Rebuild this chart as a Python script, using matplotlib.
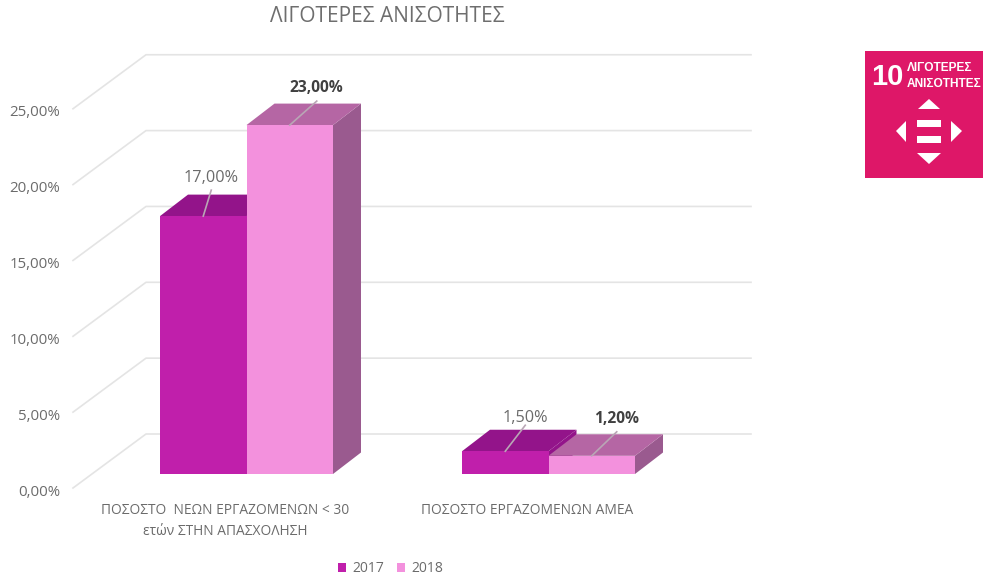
import matplotlib
matplotlib.use("Agg")
import matplotlib.pyplot as plt
from matplotlib.patches import Polygon, Rectangle, Patch

plt.rcParams['font.family'] = ['Open Sans', 'DejaVu Sans']

# --- data ---
title = "ΛΙΓΟΤΕΡΕΣ ΑΝΙΣΟΤΗΤΕΣ"
categories = ["ΠΟΣΟΣΤΟ  ΝΕΩΝ ΕΡΓΑΖΟΜΕΝΩΝ < 30\nετών ΣΤΗΝ ΑΠΑΣΧΟΛΗΣΗ", "ΠΟΣΟΣΤΟ ΕΡΓΑΖΟΜΕΝΩΝ ΑΜΕΑ"]
years = ["2017", "2018"]
values_2017 = [17.0, 1.5]
values_2018 = [23.0, 1.2]
ticks = [0, 5, 10, 15, 20, 25]


def pct(v):
    return f"{v:.2f}".replace(".", ",") + "%"


# --- style ---
W, H = 983, 581
BASE = 474      # pixel row of value 0 on the bar front
PX = 15.17      # pixels per percent
C_2017 = ("#C01FAB", "#93148A")
C_2018 = ("#F391DD", "#B566A4", "#9A5A8F")
GRID = "#E4E4E4"
TEXT = "#6B6B6B"

fig = plt.figure(figsize=(W / 100, H / 100), dpi=100)
ax = fig.add_axes([0, 0, 1, 1])
ax.set_xlim(0, W)
ax.set_ylim((BASE - H) / PX, BASE / PX)
ax.axis("off")

# oblique depth of the bars and of the floor, in axis units
bar_dx, bar_dy = 28, 21.5 / PX
floor_x0, floor_y0 = 73, -14 / PX
wall_x, wall_y = 146, 40 / PX
wall_end = 751

for t in ticks:
    ax.plot([floor_x0, wall_x, wall_end], [t + floor_y0, t + wall_y, t + wall_y],
            color=GRID, lw=1.2, zorder=1, solid_joinstyle="round")
    ax.text(60, t + floor_y0 - 4 / PX, pct(t), ha="right", va="center", fontsize=10.8, color=TEXT)


def bar3d(x0, x1, v, colors):
    front = colors[0]
    top = colors[1]
    side = colors[2] if len(colors) > 2 else colors[1]
    ax.add_patch(Polygon([(x1, 0), (x1 + bar_dx, bar_dy), (x1 + bar_dx, v + bar_dy), (x1, v)],
                         fc=side, ec="none", zorder=2))
    ax.add_patch(Polygon([(x0, v), (x0 + bar_dx, v + bar_dy), (x1 + bar_dx, v + bar_dy), (x1, v)],
                         fc=top, ec="none", zorder=2))
    ax.add_patch(Rectangle((x0, 0), x1 - x0, v, fc=front, ec="none", zorder=2))


group_x = [160, 462]
bar_w = 86.5
# label centre relative to the bar centre, pixels
lead_x = [[8, 27], [20, 25]]
lead_top = [26, 24]
label_up = [[38, 37], [33, 37]]

for i, x in enumerate(group_x):
    bar3d(x, x + bar_w, values_2017[i], C_2017)
    bar3d(x + bar_w, x + 2 * bar_w, values_2018[i], C_2018)

    for j, (v, weight, col) in enumerate([(values_2017[i], "normal", TEXT), (values_2018[i], "bold", "#404040")]):
        cx = x + bar_w * (j + 0.5)
        ax.plot([cx, cx + lead_x[i][j]], [v, v + lead_top[j] / PX], color="#B9A6B5", lw=1.2, zorder=3)
        ax.text(cx + lead_x[i][j], v + label_up[i][j] / PX, pct(v), ha="center", va="center",
                fontsize=11.7 if j == 0 else 11.2, color=col, fontweight=weight, zorder=4)

# category labels
ax.text(225, (BASE - 521) / PX, categories[0], ha="center", va="center", fontsize=9.9,
        color=TEXT, linespacing=1.5)
ax.text(527, (BASE - 511) / PX, categories[1], ha="center", va="center", fontsize=9.9, color=TEXT)

ax.text(387, (BASE - 17) / PX, title, ha="center", va="center", fontsize=15, color="#6E6E6E")

leg = ax.legend(handles=[Patch(fc=C_2017[0], label=years[0]), Patch(fc=C_2018[0], label=years[1])],
                loc="center", bbox_to_anchor=(390.5 / W, 1 - 569 / H), ncol=2, frameon=False,
                fontsize=10, handlelength=0.6, handleheight=0.6, handletextpad=0.4, columnspacing=0.95,
                labelcolor=TEXT)

# goal 10 badge
BADGE = "#DE1768"
BADGE_FONT = ["Liberation Sans", "DejaVu Sans"]
ax2 = fig.add_axes([865 / W, 1 - 178 / H, 118 / W, 127 / H])
ax2.set_xlim(865, 983)
ax2.set_ylim(178, 51)
ax2.axis("off")
ax2.add_patch(Rectangle((865, 51), 118, 127, fc=BADGE, ec="none"))
ax2.text(887, 77, "10", color="white", fontsize=21, fontweight="bold", ha="center", va="center",
         family=BADGE_FONT)
ax2.text(907, 68, "ΛΙΓΟΤΕΡΕΣ", color="white", fontsize=8.6, fontweight="bold", ha="left", va="center",
         family=BADGE_FONT)
ax2.text(907, 84, "ΑΝΙΣΟΤΗΤΕΣ", color="white", fontsize=8.6, fontweight="bold", ha="left", va="center",
         family=BADGE_FONT, clip_on=True)
for pts in ([(918, 109), (929, 99), (940, 109)], [(917, 153), (929, 164), (941, 153)],
            [(906, 121), (896, 131), (906, 142)], [(951, 121), (962, 131), (951, 142)]):
    ax2.add_patch(Polygon(pts, fc="white", ec="none"))
ax2.add_patch(Rectangle((917, 120), 24, 7, fc="white", ec="none"))
ax2.add_patch(Rectangle((917, 136), 24, 7, fc="white", ec="none"))

fig.savefig("out.png", dpi=100)
plt.close(fig)
